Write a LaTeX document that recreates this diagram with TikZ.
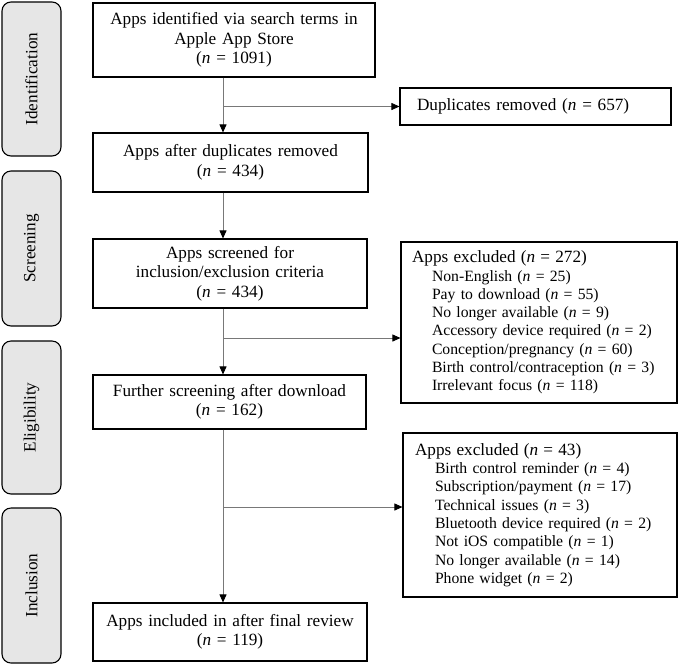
\documentclass[tikz,border=0pt]{standalone}
\usepackage{fontspec}
\setmainfont{Liberation Serif}
\usetikzlibrary{arrows.meta}

\definecolor{stagegray}{RGB}{230,230,230}
\definecolor{linkgray}{RGB}{120,120,120}
\newcommand{\cnt}[1]{(\textit{n} = #1)}
\newcommand{\reason}{\hspace*{20pt}}

\begin{document}
\begin{tikzpicture}[x=1pt,y=-1pt,
  stage/.style={draw,line width=1.1pt,rounded corners=9pt,fill=stagegray,rotate=90,
    minimum height=59pt,inner sep=0pt,font=\fontsize{17.2}{19.5}\selectfont},
  flow/.style={draw,line width=1.1pt,align=center,inner xsep=4pt,inner ysep=0pt,
    font=\fontsize{17.2}{19.5}\selectfont},
  excl/.style={draw,line width=1.1pt,align=left,inner xsep=11pt,inner ysep=0pt,
    font=\fontsize{15.7}{18.3}\selectfont},
  link/.style={draw=linkgray,line width=0.8pt,-{Triangle[length=8pt,width=7pt,color=black]}}]
\useasboundingbox (0,0) rectangle (679,665);

% phases
\node[stage,minimum width=154pt] (ident)  at (31.5,79)    {Identification};
\node[stage,minimum width=155pt] (screen) at (31.5,248.5) {Screening};
\node[stage,minimum width=153pt] (elig)   at (31.5,417.5) {Eligibility};
\node[stage,minimum width=155pt] (incl)   at (31.5,585.5) {Inclusion};

% main flow
\node[flow,text width=274pt,minimum height=74pt] (found) at (234,40)
  {Apps identified via search terms in\\Apple App Store\\\cnt{1091}};
\node[flow,text width=267pt,minimum height=59pt] (dedup) at (230.5,162.5)
  {Apps after duplicates removed\\\cnt{434}};
\node[flow,text width=266pt,minimum height=69pt] (screened) at (230,273.5)
  {Apps screened for\\inclusion/exclusion criteria\\\cnt{434}};
\node[flow,text width=265pt,minimum height=54pt] (download) at (229.5,402)
  {Further screening after download\\\cnt{162}};
\node[flow,text width=266pt,minimum height=58pt] (final) at (230,632)
  {Apps included in after final review\\\cnt{119}};

% side boxes
\node[flow,align=left,inner xsep=17pt,text width=237pt,minimum height=37pt] (dups) at (535.5,106.5)
  {Duplicates removed \cnt{657}};
\node[excl,text width=254pt,minimum height=161pt] (excl1) at (539,322.5)
  {{\fontsize{17.2}{18.3}\selectfont Apps excluded \cnt{272}}\\
   \reason Non-English \cnt{25}\\
   \reason Pay to download \cnt{55}\\
   \reason No longer available \cnt{9}\\
   \reason Accessory device required \cnt{2}\\
   \reason Conception/pregnancy \cnt{60}\\
   \reason Birth control/contraception \cnt{3}\\
   \reason Irrelevant focus \cnt{118}};
\node[excl,inner xsep=12pt,text width=250pt,minimum height=164pt] (excl2) at (540,515)
  {{\fontsize{17.2}{18.3}\selectfont Apps excluded \cnt{43}}\\
   \reason Birth control reminder \cnt{4}\\
   \reason Subscription/payment \cnt{17}\\
   \reason Technical issues \cnt{3}\\
   \reason Bluetooth device required \cnt{2}\\
   \reason Not iOS compatible \cnt{1}\\
   \reason No longer available \cnt{14}\\
   \reason Phone widget \cnt{2}};

% connectors
\coordinate (split1) at (223,106.5);
\coordinate (split2) at (223,338);
\coordinate (split3) at (223,507);
\draw[link] (found.south -| split1) -- (dedup.north -| split1);
\draw[link] (split1) -- (dups.west);
\draw[link] (dedup.south -| split1) -- (screened.north -| split1);
\draw[link] (screened.south -| split2) -- (download.north -| split2);
\draw[link] (split2) -- (split2 -| excl1.west);
\draw[link] (download.south -| split3) -- (final.north -| split3);
\draw[link] (split3) -- (split3 -| excl2.west);
\end{tikzpicture}
\end{document}
